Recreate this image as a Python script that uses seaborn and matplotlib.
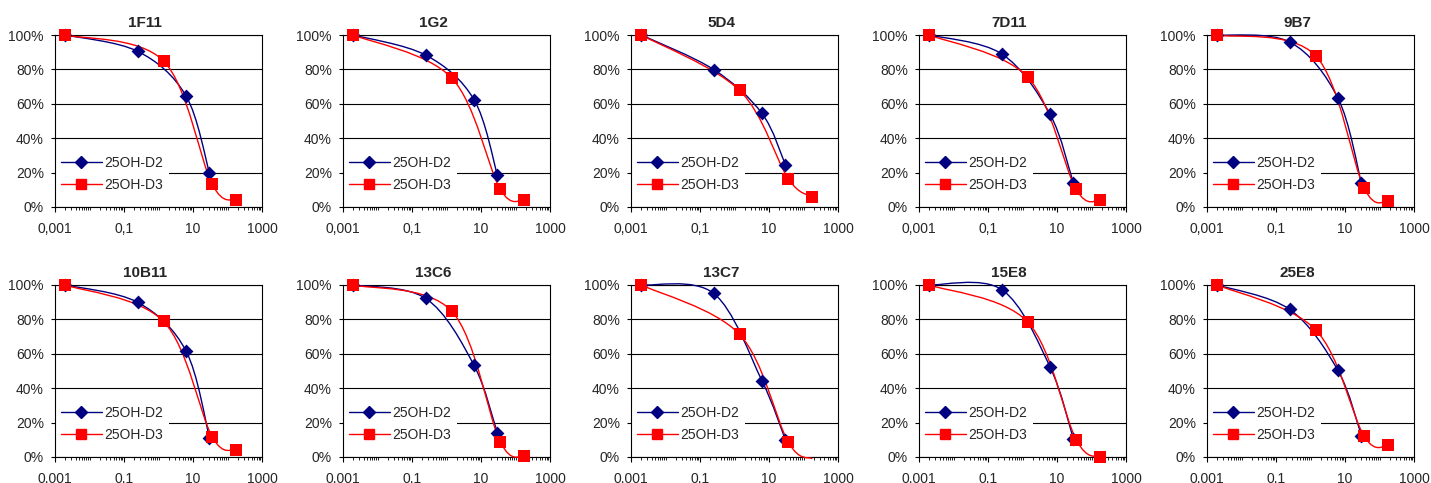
import numpy as np
import matplotlib
matplotlib.use("Agg")
import matplotlib.pyplot as plt
import seaborn as sns
from matplotlib.path import Path
from matplotlib.patches import PathPatch
from matplotlib.lines import Line2D
from matplotlib.ticker import PercentFormatter, FixedLocator, NullFormatter

# ---------------- data ----------------
clones = ["1F11", "1G2", "5D4", "7D11", "9B7", "10B11", "13C6", "13C7", "15E8", "25E8"]
conc_d2 = [0.002, 0.25, 6.25, 30]
conc_d3 = [0.002, 1.4, 36, 180]

d2_1F11 = [100, 90.5, 64.7, 19.8]
d3_1F11 = [100, 84.9, 13.2, 4.1]
d2_1G2 = [100, 88.3, 62.5, 18.4]
d3_1G2 = [100, 75.1, 10.3, 4.1]
d2_5D4 = [100, 79.9, 54.4, 24.5]
d3_5D4 = [100, 67.8, 16.5, 5.9]
d2_7D11 = [100, 89.0, 54.0, 13.7]
d3_7D11 = [100, 75.6, 10.2, 4.0]
d2_9B7 = [100, 95.9, 63.3, 13.8]
d3_9B7 = [100, 88.0, 10.9, 3.5]
d2_10B11 = [100, 89.9, 61.7, 11.3]
d3_10B11 = [100, 78.8, 11.7, 4.3]
d2_13C6 = [100, 92.2, 53.4, 13.8]
d3_13C6 = [100, 84.9, 8.9, 0.4]
d2_13C7 = [100, 95.1, 44.3, 9.9]
d3_13C7 = [100, 71.3, 8.7, -1.0]
d2_15E8 = [100, 97.3, 52.5, 10.4]
d3_15E8 = [100, 78.6, 10.0, 0.0]
d2_25E8 = [100, 85.8, 50.3, 12.4]
d3_25E8 = [100, 74.0, 12.0, 6.7]

series_labels = ["25OH-D2", "25OH-D3"]
xtick_values = [0.001, 0.1, 10, 1000]
xtick_labels = ["0,001", "0,1", "10", "1000"]

d2_all = [d2_1F11, d2_1G2, d2_5D4, d2_7D11, d2_9B7,
          d2_10B11, d2_13C6, d2_13C7, d2_15E8, d2_25E8]
d3_all = [d3_1F11, d3_1G2, d3_5D4, d3_7D11, d3_9B7,
          d3_10B11, d3_13C6, d3_13C7, d3_15E8, d3_25E8]

# ---------------- style ----------------
sns.set_style("ticks")
plt.rcParams["font.family"] = ["Liberation Sans", "DejaVu Sans"]

C_D2 = "#000080"
C_D3 = "#FF0000"


def smooth_path(xs, ys):
    """Excel-like smoothed line: cubic Bezier segments whose control points
    come from the neighbouring data points (computed in log-x space)."""
    lx = np.log10(np.asarray(xs, float))
    y = np.asarray(ys, float)
    n = len(lx)
    P = np.column_stack([lx, y])
    verts = [P[0]]
    codes = [Path.MOVETO]
    for i in range(n - 1):
        pm = P[i - 1] if i > 0 else P[i]
        pp = P[i + 2] if i + 2 < n else P[i + 1]
        c1 = P[i] + (P[i + 1] - pm) / 6.0
        c2 = P[i + 1] - (pp - P[i]) / 6.0
        verts += [c1, c2, P[i + 1]]
        codes += [Path.CURVE4] * 3
    verts = np.array(verts)
    verts[:, 0] = 10 ** verts[:, 0]
    return Path(verts, codes)


fig = plt.figure(figsize=(14.31, 4.83), dpi=100)
W, H = 1431.0, 483.0
ax_w = 207
ax_h = 172
lefts = [55, 343, 631, 919, 1207]
tops = [35, 285]

for k, name in enumerate(clones):
    r, c = divmod(k, 5)
    left = lefts[c]
    top = tops[r]
    ax = fig.add_axes([left / W, 1 - (top + ax_h) / H, ax_w / W, ax_h / H])

    d2 = np.array(d2_all[k]) / 100.0
    d3 = np.array(d3_all[k]) / 100.0

    for xs, ys, col in [(conc_d2, d2, C_D2), (conc_d3, d3, C_D3)]:
        patch = PathPatch(smooth_path(xs, ys), fill=False, edgecolor=col,
                          lw=1.0, zorder=3)
        ax.add_patch(patch)
        patch.set_clip_on(False)

    m2 = d2 >= 0
    m3 = d3 >= 0
    sns.scatterplot(x=np.array(conc_d2)[m2], y=d2[m2], marker="D", s=50,
                    color=C_D2, edgecolor=C_D2, linewidth=0, ax=ax,
                    legend=False, zorder=4, clip_on=False)
    sns.scatterplot(x=np.array(conc_d3)[m3], y=d3[m3], marker="s", s=72,
                    color=C_D3, edgecolor=C_D3, linewidth=0, ax=ax,
                    legend=False, zorder=5, clip_on=False)

    ax.set_xscale("log")
    ax.set_xlim(0.001, 1000)
    ax.set_ylim(0, 1)
    ax.set_xticks(xtick_values)
    ax.set_xticklabels(xtick_labels)
    minors = [m * 10.0 ** e for e in range(-3, 3) for m in range(1, 10)]
    minors = [v for v in minors if v not in xtick_values and v <= 1000]
    ax.xaxis.set_minor_locator(FixedLocator(minors))
    ax.xaxis.set_minor_formatter(NullFormatter())
    ax.set_yticks([0, 0.2, 0.4, 0.6, 0.8, 1.0])
    ax.yaxis.set_major_formatter(PercentFormatter(1.0, decimals=0))

    ax.tick_params(axis="x", which="major", direction="out", length=3.5,
                   width=0.8, pad=7, labelsize=10, color="black")
    ax.tick_params(axis="x", which="minor", direction="out", length=2,
                   width=0.6, color="black")
    ax.tick_params(axis="y", which="major", direction="out", length=3,
                   width=0.8, pad=5, labelsize=10, color="black")
    ax.set_xlabel("")
    ax.set_ylabel("")

    ax.set_axisbelow(True)
    ax.yaxis.grid(True, color="black", lw=0.8)
    ax.xaxis.grid(False)
    for sp in ax.spines.values():
        sp.set_visible(True)
        sp.set_color("black")
        sp.set_linewidth(0.8)
    ax.set_facecolor("white")

    ax.set_title(name, x=0.435, pad=6, fontsize=11, fontweight="bold")

    handles = [
        Line2D([], [], color=C_D2, marker="D", markersize=6.2, lw=1.0),
        Line2D([], [], color=C_D3, marker="s", markersize=7.2, lw=1.0),
    ]
    leg = ax.legend(handles, series_labels, loc="lower left",
                    bbox_to_anchor=(0.0, 0.055), frameon=True,
                    facecolor="white", edgecolor="none", framealpha=1,
                    fontsize=10, handlelength=3.0, handletextpad=0.15,
                    labelspacing=0.55, borderpad=0.4, borderaxespad=0.0,
                    fancybox=False)
    leg.set_zorder(2)

fig.savefig("out.png", dpi=100, facecolor="white")
